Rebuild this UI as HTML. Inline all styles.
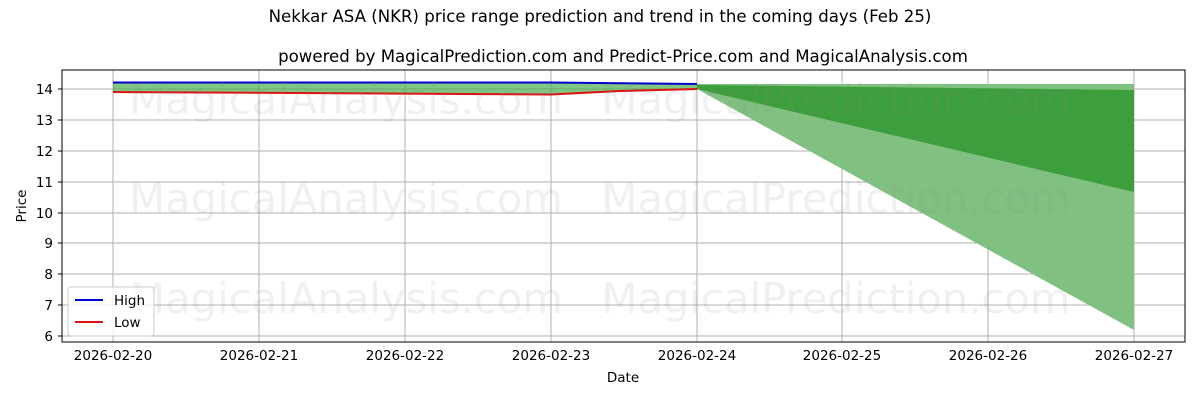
<!DOCTYPE html>
<html><head><meta charset="utf-8"><style>
body{margin:0;background:#fff;}
svg text{font-family:"DejaVu Sans","Liberation Sans",sans-serif;}
</style></head><body>
<svg width="1200" height="400" xmlns="http://www.w3.org/2000/svg">
<rect width="1200" height="400" fill="#fff"/>
<text x="600" y="22" font-size="16.6" text-anchor="middle" fill="#000">Nekkar ASA (NKR) price range prediction and trend in the coming days (Feb 25)</text>
<text x="623" y="62" font-size="16.6" text-anchor="middle" fill="#000">powered by MagicalPrediction.com and Predict-Price.com and MagicalAnalysis.com</text>
<g stroke="#b0b0b0" stroke-width="1">
<line x1="62" x2="1185" y1="89" y2="89"/><line x1="62" x2="1185" y1="120" y2="120"/><line x1="62" x2="1185" y1="151" y2="151"/><line x1="62" x2="1185" y1="182" y2="182"/><line x1="62" x2="1185" y1="213" y2="213"/><line x1="62" x2="1185" y1="243" y2="243"/><line x1="62" x2="1185" y1="274" y2="274"/><line x1="62" x2="1185" y1="305" y2="305"/><line x1="62" x2="1185" y1="336" y2="336"/>
<line y1="70" y2="342" x1="113" x2="113"/><line y1="70" y2="342" x1="259" x2="259"/><line y1="70" y2="342" x1="405" x2="405"/><line y1="70" y2="342" x1="551" x2="551"/><line y1="70" y2="342" x1="697" x2="697"/><line y1="70" y2="342" x1="842" x2="842"/><line y1="70" y2="342" x1="988" x2="988"/><line y1="70" y2="342" x1="1134" x2="1134"/>
</g>
<polygon points="113,82.5 551,82.5 697,84 697,89 551,94.5 113,92" fill="#4caf50" fill-opacity="0.7"/>
<polygon points="697,84 1134,84 1134,330 697,89" fill="#80c080"/>
<polygon points="697,85 1134,90 1134,192 697,89" fill="#3d9e3d"/>
<polyline points="113,82.5 551,82.5 620,83.2 697,84" fill="none" stroke="#0000cc" stroke-width="2"/>
<polyline points="113,92 551,94.5 620,91 697,89" fill="none" stroke="#dd1111" stroke-width="2"/>
<g font-size="41.7" fill="#888" fill-opacity="0.13" text-anchor="middle">
<text x="346" y="114">MagicalAnalysis.com</text><text x="836" y="114">MagicalPrediction.com</text>
<text x="346" y="213">MagicalAnalysis.com</text><text x="836" y="213">MagicalPrediction.com</text>
<text x="346" y="313">MagicalAnalysis.com</text><text x="836" y="313">MagicalPrediction.com</text>
</g>
<rect x="62" y="70" width="1123" height="272" fill="none" stroke="#000" stroke-width="1"/>
<g font-size="13.5" fill="#000" text-anchor="end">
<text x="53" y="94">14</text><text x="53" y="125">13</text><text x="53" y="156">12</text><text x="53" y="187">11</text><text x="53" y="218">10</text><text x="53" y="248">9</text><text x="53" y="279">8</text><text x="53" y="310">7</text><text x="53" y="341">6</text>
</g>
<g stroke="#000"><line x1="58" x2="62" y1="89" y2="89"/><line x1="58" x2="62" y1="120" y2="120"/><line x1="58" x2="62" y1="151" y2="151"/><line x1="58" x2="62" y1="182" y2="182"/><line x1="58" x2="62" y1="213" y2="213"/><line x1="58" x2="62" y1="243" y2="243"/><line x1="58" x2="62" y1="274" y2="274"/><line x1="58" x2="62" y1="305" y2="305"/><line x1="58" x2="62" y1="336" y2="336"/></g>
<g font-size="13.5" fill="#000" text-anchor="middle">
<text x="113" y="360">2026-02-20</text><text x="259" y="360">2026-02-21</text><text x="405" y="360">2026-02-22</text><text x="551" y="360">2026-02-23</text><text x="697" y="360">2026-02-24</text><text x="842" y="360">2026-02-25</text><text x="988" y="360">2026-02-26</text><text x="1134" y="360">2026-02-27</text>
<text x="623" y="382">Date</text>
</g>
<text x="26" y="206" font-size="13.5" text-anchor="middle" transform="rotate(-90 26 206)">Price</text>
<rect x="68" y="287" width="86" height="49" rx="3" fill="#fff" fill-opacity="0.8" stroke="#ccc"/>
<line x1="75" x2="103" y1="300" y2="300" stroke="#0000cc" stroke-width="2"/>
<line x1="75" x2="103" y1="322" y2="322" stroke="#dd1111" stroke-width="2"/>
<text x="114" y="305" font-size="13.5">High</text>
<text x="114" y="327" font-size="13.5">Low</text>
</svg>
</body></html>
